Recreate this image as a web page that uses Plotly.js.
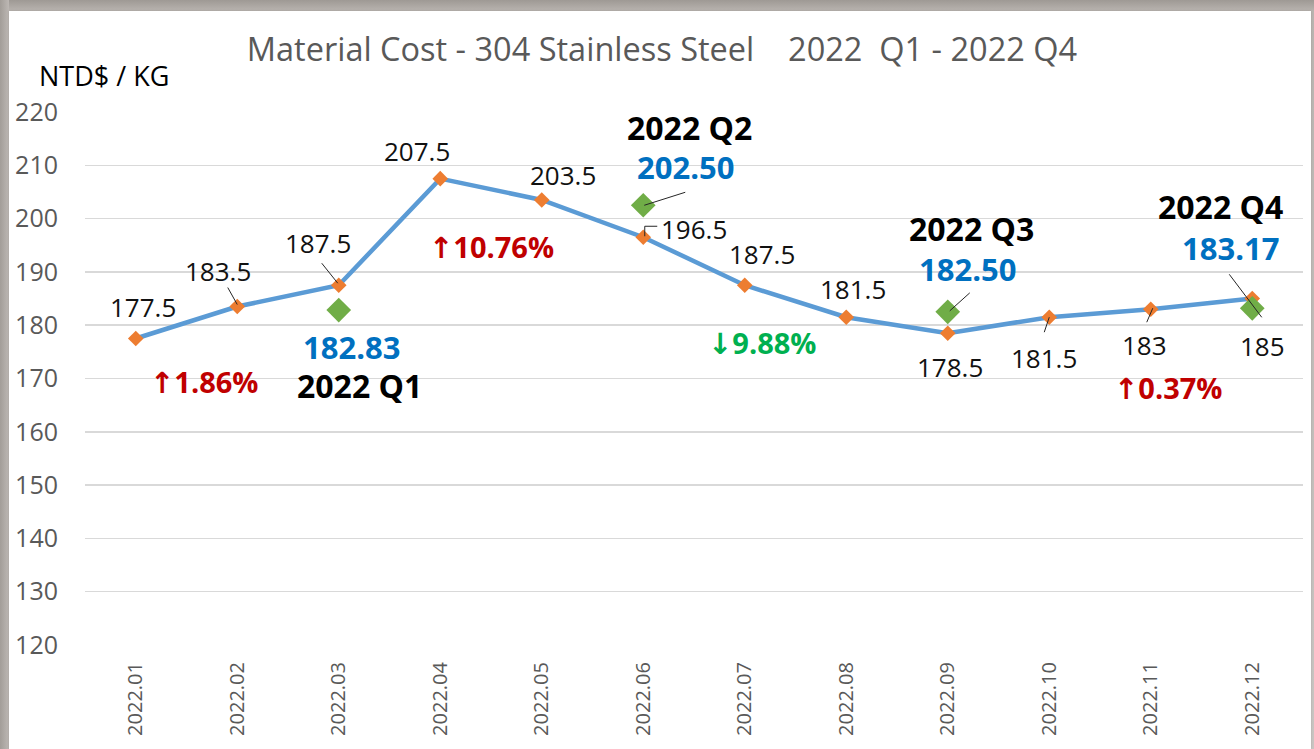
<!DOCTYPE html>
<html>
<head>
<meta charset="utf-8">
<script src="https://cdn.plot.ly/plotly-3.0.1.min.js"></script>
<style>
  html, body { margin: 0; padding: 0; width: 1314px; height: 749px; overflow: hidden; }
  body { background: linear-gradient(to bottom, #9e9994 0px, #b9b4b0 11px, #c9c5c2 100%); }
  #frame { position: absolute; left: 0; top: 0; width: 1314px; height: 749px;
           background: linear-gradient(to right, #a29d98 0px, #bdb8b4 9px, transparent 9px); }
  #chart { position: absolute; left: 9px; top: 11px; width: 1302px; height: 738px; background: #fff;
           box-shadow: 0 0 2px rgba(0,0,0,0.15); }
</style>
</head>
<body>
<div id="frame"></div>
<div id="chart"></div>
<script>
// ---- data ----
const months = ["2022.01","2022.02","2022.03","2022.04","2022.05","2022.06",
                "2022.07","2022.08","2022.09","2022.10","2022.11","2022.12"];
const prices = [177.5, 183.5, 187.5, 207.5, 203.5, 196.5, 187.5, 181.5, 178.5, 181.5, 183, 185];
const priceLabels = ["177.5","183.5","187.5","207.5","203.5","196.5","187.5","181.5","178.5","181.5","183","185"];
const quarterMonths = ["2022.03","2022.06","2022.09","2022.12"];
const quarterAvg = [182.83, 202.50, 182.50, 183.17];
const quarterAvgLabels = ["182.83","202.50","182.50","183.17"];
const quarterNames = ["2022 Q1","2022 Q2","2022 Q3","2022 Q4"];
const changeArrows = ["↑","↑","↓","↑"];
const changePct = ["1.86%","10.76%","9.88%","0.37%"];
const yTicks = [120,130,140,150,160,170,180,190,200,210,220];

// ---- styling / label offsets (pixels) ----
const FONT = "Open Sans, Noto Sans, sans-serif";
const priceShift = [[7,32],[-19,36],[-21,42],[-23,28],[21,25],[51,8],[17,31],[7,28],[2,-34],[-5,-41],[-6,-36],[10,-47]];
const avgShift = [[13,-37],[42,38],[20,43],[-22,60]];
const nameShift = [[21,-75],[46,78],[24,83],[-32,102]];
const chgShift = [[-135,-71],[-152,-41],[-186,-31],[-84,-79]];
const chgColor = ["#c00000","#c00000","#00b050","#c00000"];

const idx = (m) => months.indexOf(m);

const traces = [
  { x: months, y: prices, type: "scatter", mode: "lines",
    line: { color: "#5b9bd5", width: 4.5 }, hoverinfo: "skip" },
  { x: months, y: prices, type: "scatter", mode: "markers",
    marker: { symbol: "diamond", size: 12, color: "#ed7d31" }, hoverinfo: "skip" },
  { x: quarterMonths, y: quarterAvg, type: "scatter", mode: "markers",
    marker: { symbol: "diamond", size: 19, color: "#70ad47" }, hoverinfo: "skip" }
];

const annotations = [];
months.forEach((m, i) => {
  annotations.push({ x: i, y: prices[i], xref: "x", yref: "y", text: priceLabels[i], showarrow: false,
    xanchor: "center", yanchor: "middle",
    xshift: priceShift[i][0], yshift: priceShift[i][1], font: { family: FONT, size: 26, color: "#111111" } });
});
quarterMonths.forEach((m, i) => {
  const xi = idx(m);
  annotations.push({ x: xi, y: quarterAvg[i], xref: "x", yref: "y", text: "<b>" + quarterAvgLabels[i] + "</b>", showarrow: false,
    xanchor: "center", yanchor: "middle",
    xshift: avgShift[i][0], yshift: avgShift[i][1], font: { family: FONT, size: 31, color: "#0070c0" } });
  annotations.push({ x: xi, y: quarterAvg[i], xref: "x", yref: "y", text: "<b>" + quarterNames[i] + "</b>", showarrow: false,
    xanchor: "center", yanchor: "middle",
    xshift: nameShift[i][0], yshift: nameShift[i][1], font: { family: FONT, size: 32, color: "#000000" } });
  annotations.push({ x: xi, y: quarterAvg[i], xref: "x", yref: "y",
    text: "<b><span style='font-family:DejaVu Sans'>" + changeArrows[i] + "</span>" + changePct[i] + "</b>",
    showarrow: false, xanchor: "center", yanchor: "middle",
    xshift: chgShift[i][0], yshift: chgShift[i][1], font: { family: FONT, size: 29, color: chgColor[i] } });
});
annotations.push({ xref: "paper", yref: "paper", x: 0.016, y: 1.069, xanchor: "center", yanchor: "middle",
  text: "NTD$ / KG", showarrow: false, font: { family: FONT, size: 27, color: "#000000" } });

// leader lines (pixel offsets from the anchored point)
function leader(xi, yv, path) {
  return { type: "path", xref: "x", yref: "y", xsizemode: "pixel", ysizemode: "pixel",
           xanchor: xi, yanchor: yv, path: path, line: { color: "#262626", width: 1 } };
}
const shapes = [
  leader(1, prices[1], "M -9.5,19 L 0,2"),
  leader(2, prices[2], "M -17,22 L -1,2"),
  leader(5, prices[5], "M 1.5,1 L 1.5,11 L 14,11"),
  leader(9, prices[9], "M 0,0 L -5,-15"),
  leader(10, prices[10], "M 2,1 L -4,-13"),
  leader(idx(quarterMonths[1]), quarterAvg[1], "M 1,0 L 42,13"),
  leader(idx(quarterMonths[2]), quarterAvg[2], "M 2,1 L 22,19"),
  leader(idx(quarterMonths[3]), quarterAvg[3], "M -23,34 L 9.5,-9")
];

const layout = {
  width: 1302, height: 738,
  margin: { l: 76, r: 8, t: 101, b: 104 },
  paper_bgcolor: "#ffffff", plot_bgcolor: "#ffffff",
  showlegend: false,
  title: { text: "Material Cost - 304 Stainless Steel    2022  Q1 - 2022 Q4",
           font: { family: FONT, size: 32.5, color: "#595959" },
           x: 0.5015, xref: "container", xanchor: "center", y: 0.947, yref: "container", yanchor: "middle" },
  xaxis: { type: "category", categoryarray: months, range: [-0.5, 11.5], tickangle: -90,
           showgrid: false, zeroline: false, showline: false, ticks: "",
           ticklabelstandoff: 12,
           tickfont: { family: FONT, size: 20, color: "#595959" } },
  yaxis: { range: [120, 220], tickvals: yTicks, showgrid: true, gridcolor: "#d9d9d9", gridwidth: 1.5,
           zeroline: false, showline: false, ticks: "", ticklabelstandoff: 26,
           tickfont: { family: FONT, size: 25, color: "#595959" } },
  annotations: annotations,
  shapes: shapes
};

Plotly.newPlot("chart", traces, layout, { displayModeBar: false, staticPlot: true });
</script>
</body>
</html>
